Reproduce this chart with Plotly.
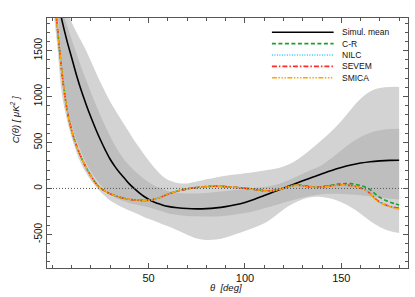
import plotly.graph_objects as go

# ---------------- data ----------------
mean_theta = [0, 2.5, 5, 7.5, 10, 12.5, 15, 17.5, 20, 22.5, 25, 27.5, 30, 32.5, 35, 37.5, 40, 42.5, 45, 47.5, 50,
              52.5, 55, 57.5, 60, 65, 70, 75, 80, 85, 90, 95, 100, 105, 110, 115, 120, 125, 130, 135, 140, 145,
              150, 155, 160, 165, 170, 175, 180]
mean_vals = [2300, 2080, 1835, 1620, 1430, 1240, 1070, 920, 780, 650, 530, 420, 320, 240, 170, 110, 50, 0, -45,
             -85, -118, -145, -165, -182, -195, -210, -219, -222, -220, -212, -198, -178, -152, -118, -78, -37, 3,
             43, 83, 122, 160, 196, 228, 255, 276, 291, 300, 305, 306]

band_theta_left = [0, 2.5, 5, 7.5, 10, 12.5, 15, 17.5, 20, 22.5, 25, 27.5, 30, 32.5, 35, 37.5, 40, 42.5, 45,
                   47.5, 50, 52.5, 55, 57.5, 60]
band_theta_right = [65, 70, 75, 80, 85, 90, 95, 100, 105, 110, 115, 120, 125, 130, 135, 140, 145, 150, 155, 160,
                    165, 170, 175, 180]
band_theta = band_theta_left + band_theta_right

outer_up_vals = [2500, 2290, 2110, 1950, 1815, 1705, 1605, 1505, 1390, 1270, 1155, 1050, 950, 860, 775, 690, 610,
                 525, 450, 375, 305, 240, 180, 130, 95,
                 60, 55, 75, 100, 120, 138, 152, 166, 180, 195, 212, 240, 285, 355, 440, 530, 625, 735, 860, 975,
                 1055, 1092, 1104, 1105]
outer_lo_vals = [2050, 1580, 1030, 760, 560, 400, 270, 170, 90, 25, -35, -85, -130, -160, -190, -215, -240, -262,
                 -285, -310, -330, -350, -372, -392, -412,
                 -455, -505, -545, -560, -556, -535, -500, -462, -425, -380, -310, -230, -165, -118, -94, -92, -112,
                 -150, -205, -275, -355, -420, -462, -485]
inner_up_vals = [2350, 2150, 1960, 1790, 1630, 1475, 1325, 1185, 1050, 920, 795, 680, 570, 470, 385, 310, 250, 195,
                 150, 105, 68, 38, 12, -10, -27,
                 -46, -54, -55, -50, -40, -28, -16, -6, 4, 16, 35, 68, 112, 160, 205, 255, 330, 415, 495, 560, 607,
                 633, 647, 650]
inner_lo_vals = [2500, 2010, 1350, 930, 700, 530, 400, 280, 185, 110, 40, -15, -65, -95, -120, -140, -158, -170,
                 -182, -193, -205, -220, -237, -255, -270,
                 -288, -299, -304, -306, -305, -298, -285, -268, -245, -215, -185, -155, -125, -98, -77, -62, -58,
                 -60, -66, -75, -88, -100, -112, -120]

data_theta = [0, 2.5, 5, 7.5, 10, 12.5, 15, 17.5, 20, 22.5, 25, 27.5, 30, 32.5, 35, 37.5, 40, 42.5, 45, 47.5, 50,
              52.5, 55, 57.5, 60, 65, 70, 75, 80, 85, 90, 95, 100, 105, 110, 112.5, 115, 117.5, 120, 122.5, 125,
              127.5, 130, 132.5, 135, 137.5, 140, 142.5, 145, 147.5, 150, 152.5, 155, 157.5, 160, 162.5, 165,
              167.5, 170, 172.5, 175, 177.5, 180]
smica_vals = [2300, 1790, 1270, 880, 640, 470, 340, 230, 140, 60, 5, -30, -58, -78, -95, -108, -118, -125, -129,
              -131, -129, -120, -105, -85, -62, -28, -5, 8, 18, 22, 19, 12, 2, -12, -27, -30, -24, -12, 2, 18, 30,
              33, 28, 20, 14, 12, 15, 20, 27, 33, 36, 35, 30, 20, 4, -20, -62, -115, -155, -180, -198, -213, -225]
sevem_vals = [2300, 1790, 1270, 880, 640, 470, 340, 230, 140, 60, 5, -30, -58, -78, -95, -108, -118, -125, -129,
              -131, -129, -120, -105, -85, -62, -28, -5, 10, 20, 24, 20, 12, 2, -12, -26, -28, -22, -10, 4, 20, 32,
              34, 29, 21, 15, 13, 16, 22, 29, 35, 38, 37, 32, 22, 6, -17, -57, -108, -148, -175, -193, -205, -215]
nilc_vals = [2300, 1790, 1270, 880, 640, 470, 340, 230, 140, 60, 5, -30, -58, -78, -95, -108, -118, -125, -129,
             -131, -129, -120, -105, -85, -62, -28, -5, 8, 18, 22, 19, 12, 2, -12, -27, -30, -24, -12, 2, 17, 29,
             32, 27, 19, 13, 12, 15, 20, 27, 33, 36, 35, 30, 20, 4, -18, -59, -111, -151, -177, -196, -210, -220]
cr_vals = [2300, 1790, 1270, 880, 640, 470, 340, 230, 140, 60, 5, -30, -58, -78, -95, -108, -118, -125, -129,
           -131, -129, -120, -105, -85, -62, -28, -5, 10, 20, 24, 20, 13, 3, -10, -25, -27, -21, -9, 5, 22, 35,
           38, 33, 25, 18, 16, 20, 27, 35, 44, 50, 54, 52, 44, 32, 14, -14, -58, -98, -125, -148, -165, -180]

series_names = ["Simul. mean", "C-R", "NILC", "SEVEM", "SMICA"]
x_ticks = [50, 100, 150]
y_ticks = [-500, 0, 500, 1000, 1500]

# ---------------- styles ----------------
col_outer = "#D3D3D3"
col_inner = "#BEBEBE"
styles = {
    "Simul. mean": dict(color="#000000", dash="solid", width=1.6),
    "C-R": dict(color="#1E9E2A", dash="4px,2.5px", width=1.6),
    "NILC": dict(color="#30C8F8", dash="1px,1.5px", width=1.6),
    "SEVEM": dict(color="#FF2A2A", dash="5px,2px,1.5px,2px", width=1.6),
    "SMICA": dict(color="#FFA500", dash="5px,1.5px,1.5px,1.5px,1.5px,1.5px,1.5px,1.5px", width=1.6),
}

fig = go.Figure()


def band(lo_v, up_v, color):
    fig.add_trace(go.Scatter(x=band_theta, y=lo_v, mode="lines", line=dict(width=0, shape="spline", color=color),
                             showlegend=False, hoverinfo="skip"))
    fig.add_trace(go.Scatter(x=band_theta, y=up_v, mode="lines", line=dict(width=0, shape="spline", color=color),
                             fill="tonexty", fillcolor=color, showlegend=False, hoverinfo="skip"))


band(outer_lo_vals, outer_up_vals, col_outer)
band(inner_lo_vals, inner_up_vals, col_inner)

series = [
    ("Simul. mean", mean_theta, mean_vals),
    ("C-R", data_theta, cr_vals),
    ("NILC", data_theta, nilc_vals),
    ("SEVEM", data_theta, sevem_vals),
    ("SMICA", data_theta, smica_vals),
]
for name, t, v in series:
    s = styles[name]
    fig.add_trace(go.Scatter(x=t, y=v, mode="lines", name=name, showlegend=False,
                             line=dict(color=s["color"], dash=s["dash"], width=s["width"], shape="spline")))

# zero line
fig.add_hline(y=0, line=dict(color="#555555", width=1, dash="1px,2px"), layer="above")

# manual legend (paper coordinates)
leg_x0, leg_x1, leg_xt = 0.623, 0.794, 0.812
leg_y0, leg_dy = 0.943, 0.0455
for i, name in enumerate(series_names):
    s = styles[name]
    yy = leg_y0 - i * leg_dy
    fig.add_shape(type="line", xref="paper", yref="paper", x0=leg_x0, x1=leg_x1, y0=yy, y1=yy,
                  line=dict(color=s["color"], dash=s["dash"], width=s["width"]))
    fig.add_annotation(xref="paper", yref="paper", x=leg_xt, y=yy, text=name, showarrow=False,
                       xanchor="left", yanchor="middle", font=dict(size=8.5, color="#111111"))

# axis titles as annotations
fig.add_annotation(xref="paper", yref="paper", x=0.495, y=-0.079, text="<i>θ  [deg]</i>", showarrow=False,
                   xanchor="center", yanchor="middle", font=dict(size=9.5, color="#111111"))
fig.add_annotation(xref="paper", yref="paper", x=-0.090, y=0.593, text="<i>C(θ) [ μK<sup>2</sup> ]</i>",
                   showarrow=False, textangle=-90, xanchor="center", yanchor="middle",
                   font=dict(size=9.5, color="#111111"))

axis_common = dict(showline=True, linecolor="#555555", linewidth=1, mirror="allticks", ticks="inside",
                   tickcolor="#555555", ticklen=5, showgrid=False, zeroline=False, automargin=False)

fig.update_xaxes(range=[-2.7, 184.6], tickvals=x_ticks, ticktext=[str(v) for v in x_ticks],
                 tickfont=dict(size=11, color="#111111"),
                 minor=dict(ticks="inside", dtick=10, tick0=0, ticklen=3, tickcolor="#555555"),
                 **axis_common)
fig.update_yaxes(range=[-866, 1855], tickvals=y_ticks, ticktext=[str(v) for v in y_ticks], tickangle=-90,
                 tickfont=dict(size=10, color="#111111"),
                 minor=dict(ticks="inside", dtick=100, tick0=0, ticklen=3, tickcolor="#555555"),
                 **axis_common)

fig.update_layout(width=415, height=297, margin=dict(l=47, r=7, t=18, b=29),
                  paper_bgcolor="white", plot_bgcolor="white",
                  font=dict(family="Liberation Sans, Arial, Helvetica, sans-serif"),
                  showlegend=False)

fig.write_html("out.html", config={"displayModeBar": False, "staticPlot": True},
               post_script="document.body.style.margin='0px';")
